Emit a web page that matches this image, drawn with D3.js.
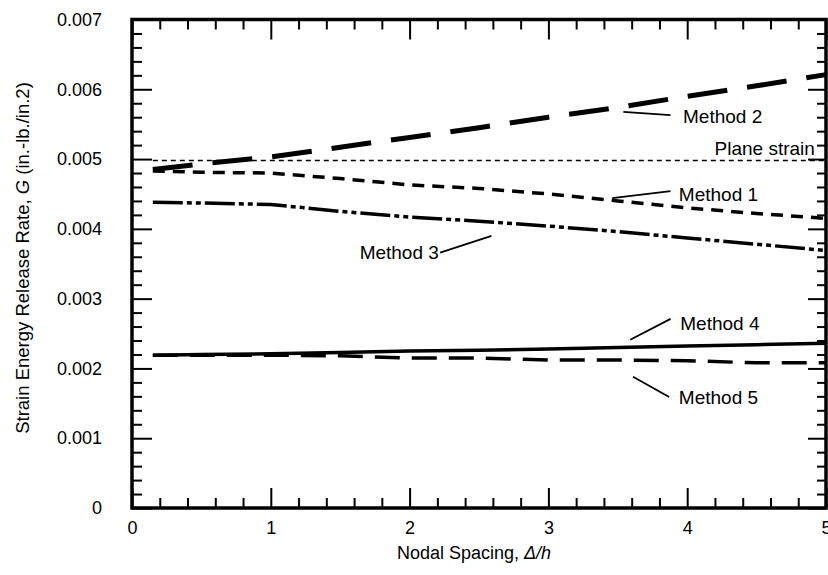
<!DOCTYPE html>
<html>
<head>
<meta charset="utf-8">
<script src="https://cdn.jsdelivr.net/npm/d3@7"></script>
<style>
  body { margin: 0; background: #fff; }
  svg { font-family: "Liberation Sans", Arial, Helvetica, sans-serif; }
</style>
</head>
<body>
<svg id="graph"></svg>
<script>
// values
var spacing = [0.15, 0.5, 1, 1.5, 2, 2.5, 3, 3.5, 4, 4.5, 5]
var method1 = [0.00483, 0.00481, 0.00480, 0.00472, 0.00463, 0.00458, 0.00450, 0.00440, 0.00430, 0.00422, 0.00415]
var method2 = [0.00485, 0.00493, 0.00503, 0.00517, 0.00531, 0.00545, 0.00560, 0.00574, 0.00590, 0.00605, 0.00621]
var method3 = [0.00438, 0.00437, 0.00435, 0.00425, 0.00417, 0.00411, 0.00404, 0.00396, 0.00387, 0.00378, 0.00369]
var method4 = [0.00219, 0.00220, 0.00221, 0.00223, 0.00225, 0.00226, 0.00228, 0.00230, 0.00232, 0.00234, 0.00236]
var method5 = [0.00219, 0.00219, 0.00219, 0.00218, 0.00215, 0.00215, 0.00212, 0.00212, 0.00211, 0.00208, 0.00208]
var planeStrain = 0.00498
var xTicks = [0, 1, 2, 3, 4, 5]
var yTicks = [0, 0.001, 0.002, 0.003, 0.004, 0.005, 0.006, 0.007]
var yTickLabels = ["0", "0.001", "0.002", "0.003", "0.004", "0.005", "0.006", "0.007"]

var width = 828
var height = 575
var plotLeft = 132, plotRight = 826, plotTop = 19.5, plotBottom = 508

var svg = d3.select("#graph")
  .attr("width", width)
  .attr("height", height)

var xScale = d3.scaleLinear().domain([0, 5]).range([plotLeft, plotRight])
var yScale = d3.scaleLinear().domain([0, 0.007]).range([plotBottom, plotTop])

var xMinor = d3.range(0, 5.001, 0.2).filter(function(d) { return Math.abs(d - Math.round(d)) > 1e-6 })
var yMinor = d3.range(0, 0.00701, 0.0002).filter(function(d) { return Math.abs(d * 1000 - Math.round(d * 1000)) > 1e-6 })

function styleAxis(g) {
  g.select(".domain").remove()
  g.selectAll("line").attr("stroke", "#000").attr("stroke-width", 2)
  g.selectAll("text").attr("fill", "#000").attr("font-size", 18)
}

// bottom
svg.append("g").attr("transform", "translate(0," + plotBottom + ")")
  .call(d3.axisBottom(xScale).tickValues(xTicks).tickFormat(d3.format("d")).tickSizeInner(-20).tickSizeOuter(0).tickPadding(13))
  .call(styleAxis)
svg.append("g").attr("transform", "translate(0," + plotBottom + ")")
  .call(d3.axisBottom(xScale).tickValues(xMinor).tickFormat("").tickSizeInner(-10).tickSizeOuter(0))
  .call(styleAxis)
// top
svg.append("g").attr("transform", "translate(0," + plotTop + ")")
  .call(d3.axisTop(xScale).tickValues(xTicks).tickFormat("").tickSizeInner(-20).tickSizeOuter(0))
  .call(styleAxis)
svg.append("g").attr("transform", "translate(0," + plotTop + ")")
  .call(d3.axisTop(xScale).tickValues(xMinor).tickFormat("").tickSizeInner(-10).tickSizeOuter(0))
  .call(styleAxis)
// left
svg.append("g").attr("transform", "translate(" + plotLeft + ",0)")
  .call(d3.axisLeft(yScale).tickValues(yTicks).tickFormat(function(d, i) { return yTickLabels[i] }).tickSizeInner(-20).tickSizeOuter(0).tickPadding(30))
  .call(styleAxis)
svg.append("g").attr("transform", "translate(" + plotLeft + ",0)")
  .call(d3.axisLeft(yScale).tickValues(yMinor).tickFormat("").tickSizeInner(-10).tickSizeOuter(0))
  .call(styleAxis)
// right
svg.append("g").attr("transform", "translate(" + plotRight + ",0)")
  .call(d3.axisRight(yScale).tickValues(yTicks).tickFormat("").tickSizeInner(-18).tickSizeOuter(0))
  .call(styleAxis)
svg.append("g").attr("transform", "translate(" + plotRight + ",0)")
  .call(d3.axisRight(yScale).tickValues(yMinor).tickFormat("").tickSizeInner(-9).tickSizeOuter(0))
  .call(styleAxis)

// frame
svg.append("rect")
  .attr("x", plotLeft).attr("y", plotTop)
  .attr("width", plotRight - plotLeft).attr("height", plotBottom - plotTop)
  .attr("fill", "none").attr("stroke", "#000").attr("stroke-width", 3.5)

// plane strain reference
svg.append("line")
  .attr("x1", xScale(0.15)).attr("x2", xScale(5))
  .attr("y1", yScale(planeStrain)).attr("y2", yScale(planeStrain))
  .attr("stroke", "#000").attr("stroke-width", 1.6).attr("stroke-dasharray", "5,4")

var series = [
  {name: "Method 1", values: method1, width: 3.5, dash: "12,8"},
  {name: "Method 2", values: method2, width: 5, dash: "40,20"},
  {name: "Method 3", values: method3, width: 3.5, dash: "30,4,5,4,5,4"},
  {name: "Method 4", values: method4, width: 3.5, dash: null},
  {name: "Method 5", values: method5, width: 3.5, dash: "25,12"}
]

var line = d3.line()
  .x(function(d) { return xScale(d[0]) })
  .y(function(d) { return yScale(d[1]) })

svg.selectAll("path.series")
  .data(series)
  .enter()
  .append("path")
  .attr("class", "series")
  .attr("fill", "none")
  .attr("stroke", "#000")
  .attr("stroke-width", function(d) { return d.width })
  .attr("stroke-dasharray", function(d) { return d.dash })
  .attr("d", function(d) { return line(spacing.map(function(x, i) { return [x, d.values[i]] })) })

// labels with leader lines (data units)
var notes = [
  {text: "Method 2", tx: 3.97, ty: 0.00561, x1: 3.54, y1: 0.005675, x2: 3.88, y2: 0.00563},
  {text: "Method 1", tx: 3.94, ty: 0.00449, x1: 3.46, y1: 0.00444, x2: 3.88, y2: 0.00454},
  {text: "Method 3", tx: 1.64, ty: 0.00366, x1: 2.22, y1: 0.00366, x2: 2.59, y2: 0.0039},
  {text: "Method 4", tx: 3.95, ty: 0.00265, x1: 3.59, y1: 0.00241, x2: 3.88, y2: 0.00271},
  {text: "Method 5", tx: 3.94, ty: 0.00158, x1: 3.61, y1: 0.00188, x2: 3.87, y2: 0.00159}
]

svg.selectAll("line.leader")
  .data(notes)
  .enter()
  .append("line")
  .attr("class", "leader")
  .attr("x1", function(d) { return xScale(d.x1) })
  .attr("y1", function(d) { return yScale(d.y1) })
  .attr("x2", function(d) { return xScale(d.x2) })
  .attr("y2", function(d) { return yScale(d.y2) })
  .attr("stroke", "#000").attr("stroke-width", 1.8)

svg.selectAll("text.note")
  .data(notes)
  .enter()
  .append("text")
  .attr("class", "note")
  .attr("x", function(d) { return xScale(d.tx) })
  .attr("y", function(d) { return yScale(d.ty) })
  .attr("dy", "0.35em")
  .attr("font-size", 19)
  .text(function(d) { return d.text })

svg.append("text")
  .attr("x", xScale(4.92)).attr("y", yScale(0.00516))
  .attr("dy", "0.35em")
  .attr("text-anchor", "end")
  .attr("font-size", 19)
  .text("Plane strain")

// axis titles
var xt = svg.append("text")
  .attr("x", (plotLeft + plotRight) / 2 - 5).attr("y", 559)
  .attr("text-anchor", "middle")
  .attr("font-size", 18)
xt.append("tspan").text("Nodal Spacing, ")
xt.append("tspan").attr("font-style", "italic").text("Δ/h")

var yt = svg.append("text")
  .attr("transform", "translate(29,258) rotate(-90)")
  .attr("text-anchor", "middle")
  .attr("font-size", 18.5)
yt.append("tspan").text("Strain Energy Release Rate, ")
yt.append("tspan").attr("font-style", "italic").text("G")
yt.append("tspan").text(" (in.-lb./in.2)")
</script>
</body>
</html>
